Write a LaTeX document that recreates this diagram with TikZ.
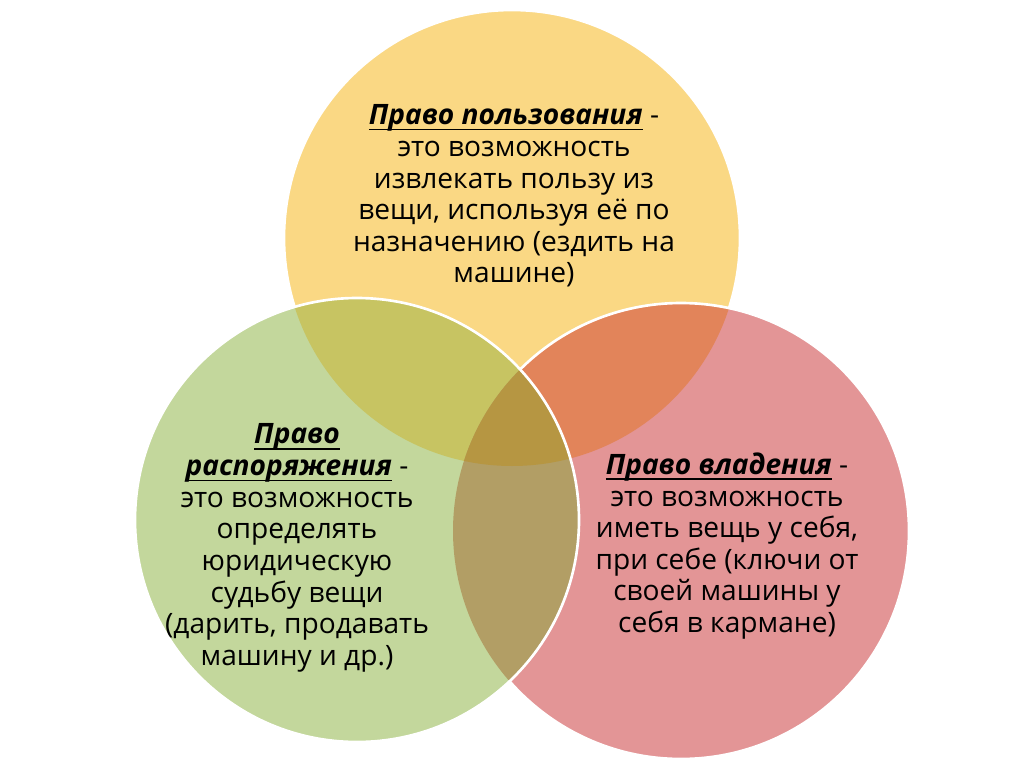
\documentclass[tikz,border=0pt]{standalone}
\usepackage{fontspec}
\setmainfont{Open Sans}
\definecolor{usecol}{RGB}{250,216,132}
\definecolor{owncol}{RGB}{227,149,150}
\definecolor{dispcol}{RGB}{195,215,156}
\definecolor{useown}{RGB}{226,132,90}
\definecolor{usedisp}{RGB}{199,196,98}
\definecolor{owndisp}{RGB}{178,158,101}
\definecolor{allthree}{RGB}{182,150,66}
\tikzset{
  rim/.style={draw=white,line width=1.5pt},
  txt/.style={align=center,font=\fontsize{16}{18}\selectfont}
}
\newsavebox{\headbox}
\newcommand{\head}[1]{\sbox{\headbox}{\textbf{\textit{#1}}}%
  \rlap{\rule[-3.2pt]{\wd\headbox}{0.9pt}}\usebox{\headbox}}

\begin{document}
\begin{tikzpicture}[x=0.02cm,y=-0.02cm]
  \fill[white] (0,0) rectangle (1024,767);
  \useasboundingbox (0,0) rectangle (1024,767);
  \coordinate (use) at (512,238);
  \coordinate (own) at (681,531);
  \coordinate (disp) at (357,520);
  % circles: use, own, then disp on top
  \fill[usecol] (use) circle[radius=228];
  \draw[rim] (use) circle[radius=228];
  \fill[owncol] (own) circle[radius=228];
  \begin{scope}
    \clip (use) circle[radius=228];
    \fill[useown] (own) circle[radius=228];
  \end{scope}
  \draw[rim] (own) circle[radius=228];
  \fill[dispcol] (disp) circle[radius=222];
  \begin{scope}
    \clip (use) circle[radius=228];
    \fill[usedisp] (disp) circle[radius=222];
  \end{scope}
  \begin{scope}
    \clip (own) circle[radius=228];
    \fill[owndisp] (disp) circle[radius=222];
    \clip (use) circle[radius=228];
    \fill[allthree] (disp) circle[radius=222];
  \end{scope}
  \draw[rim] (disp) circle[radius=222];
  % texts
  \node[txt] (usetxt) at (514,196) {\head{Право пользования} -\\это возможность\\извлекать пользу из\\вещи, используя её по\\назначению (ездить на\\машине)};
  \node[txt] (disptxt) at (297,548) {\head{Право}\\\head{распоряжения} -\\это возможность\\определять\\юридическую\\судьбу вещи\\(дарить, продавать\\машину и др.)};
  \node[txt] (owntxt) at (727,546) {\head{Право владения} -\\это возможность\\иметь вещь у себя,\\при себе (ключи от\\своей машины у\\себя в кармане)};
\end{tikzpicture}
\end{document}
